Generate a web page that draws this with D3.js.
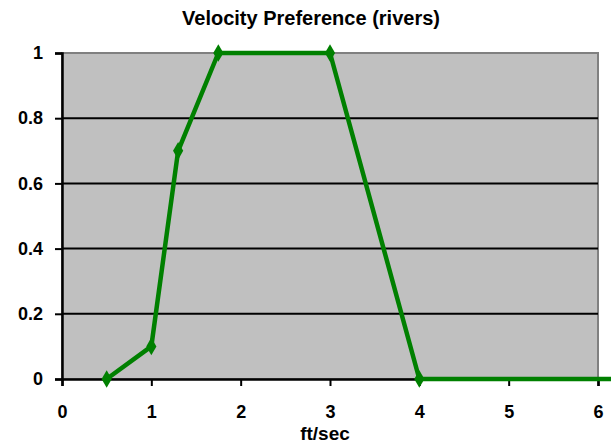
<!DOCTYPE html>
<html lang="en">
<head>
<meta charset="UTF-8">
<title>Velocity Preference (rivers)</title>
<script src="https://d3js.org/d3.v7.min.js"></script>
<style>
    body { margin: 0; background: #fff; }
    text { font-family: Arial, "Liberation Sans", sans-serif; font-weight: bold; fill: #000; }
</style>
</head>
<body>
<svg id="chart" width="611" height="445"></svg>
<script>
    // data
    const velocity = [0.5, 1, 1.3, 1.75, 3, 4, 6.6];
    const preference = [0, 0.1, 0.7, 1, 1, 0, 0];
    const xTicks = [0, 1, 2, 3, 4, 5, 6];
    const yTicks = [0, 0.2, 0.4, 0.6, 0.8, 1];

    const svg = d3.select("#chart");
    const plotLeft = 62, plotRight = 598, plotTop = 53, plotBottom = 379;

    const x = d3.scaleLinear().domain([0, 6]).range([plotLeft, plotRight]);
    const y = d3.scaleLinear().domain([0, 1]).range([plotBottom, plotTop]);

    // plot area
    svg.append("rect")
        .attr("x", plotLeft).attr("y", plotTop)
        .attr("width", plotRight - plotLeft).attr("height", plotBottom - plotTop)
        .attr("fill", "#c0c0c0")
        .attr("stroke", "#808080").attr("stroke-width", 2);

    // gridlines
    svg.append("g").selectAll("line")
        .data(yTicks.filter(d => d > 0 && d < 1))
        .join("line")
        .attr("x1", plotLeft).attr("x2", plotRight)
        .attr("y1", d => y(d)).attr("y2", d => y(d))
        .attr("stroke", "#000").attr("stroke-width", 2);

    // axes
    const yAxis = svg.append("g")
        .attr("transform", `translate(${plotLeft},0)`)
        .call(d3.axisLeft(y).tickValues(yTicks).tickFormat(d3.format("")).tickSize(7).tickPadding(12));
    const xAxis = svg.append("g")
        .attr("transform", `translate(0,${plotBottom})`)
        .call(d3.axisBottom(x).tickValues(xTicks).tickFormat(d3.format("d")).tickSize(7).tickPadding(19));
    [yAxis, xAxis].forEach(g => {
        g.select(".domain").attr("stroke", "#000").attr("stroke-width", 2.5);
        g.selectAll(".tick line").attr("stroke", "#000").attr("stroke-width", 2);
        g.selectAll(".tick text").style("font-size", "18px").style("font-weight", "bold")
            .style("font-family", "Arial, 'Liberation Sans', sans-serif").attr("fill", "#000");
    });

    // series
    const pts = velocity.map((v, i) => [v, preference[i]]);
    svg.append("path")
        .datum(pts)
        .attr("fill", "none")
        .attr("stroke", "#008000")
        .attr("stroke-width", 4.5)
        .attr("stroke-linejoin", "round")
        .attr("d", d3.line().x(d => x(d[0])).y(d => y(d[1])));

    svg.append("g").selectAll("path")
        .data(pts.filter(d => d[0] <= 6))
        .join("path")
        .attr("transform", d => `translate(${x(d[0])},${y(d[1])})`)
        .attr("d", d3.symbol(d3.symbolDiamond, 90))
        .attr("fill", "#008000");

    // titles
    svg.append("text")
        .attr("x", 311).attr("y", 25)
        .attr("text-anchor", "middle")
        .style("font-size", "20px")
        .text("Velocity Preference (rivers)");

    svg.append("text")
        .attr("x", 325).attr("y", 440)
        .attr("text-anchor", "middle")
        .style("font-size", "19px")
        .text("ft/sec");
</script>
</body>
</html>
